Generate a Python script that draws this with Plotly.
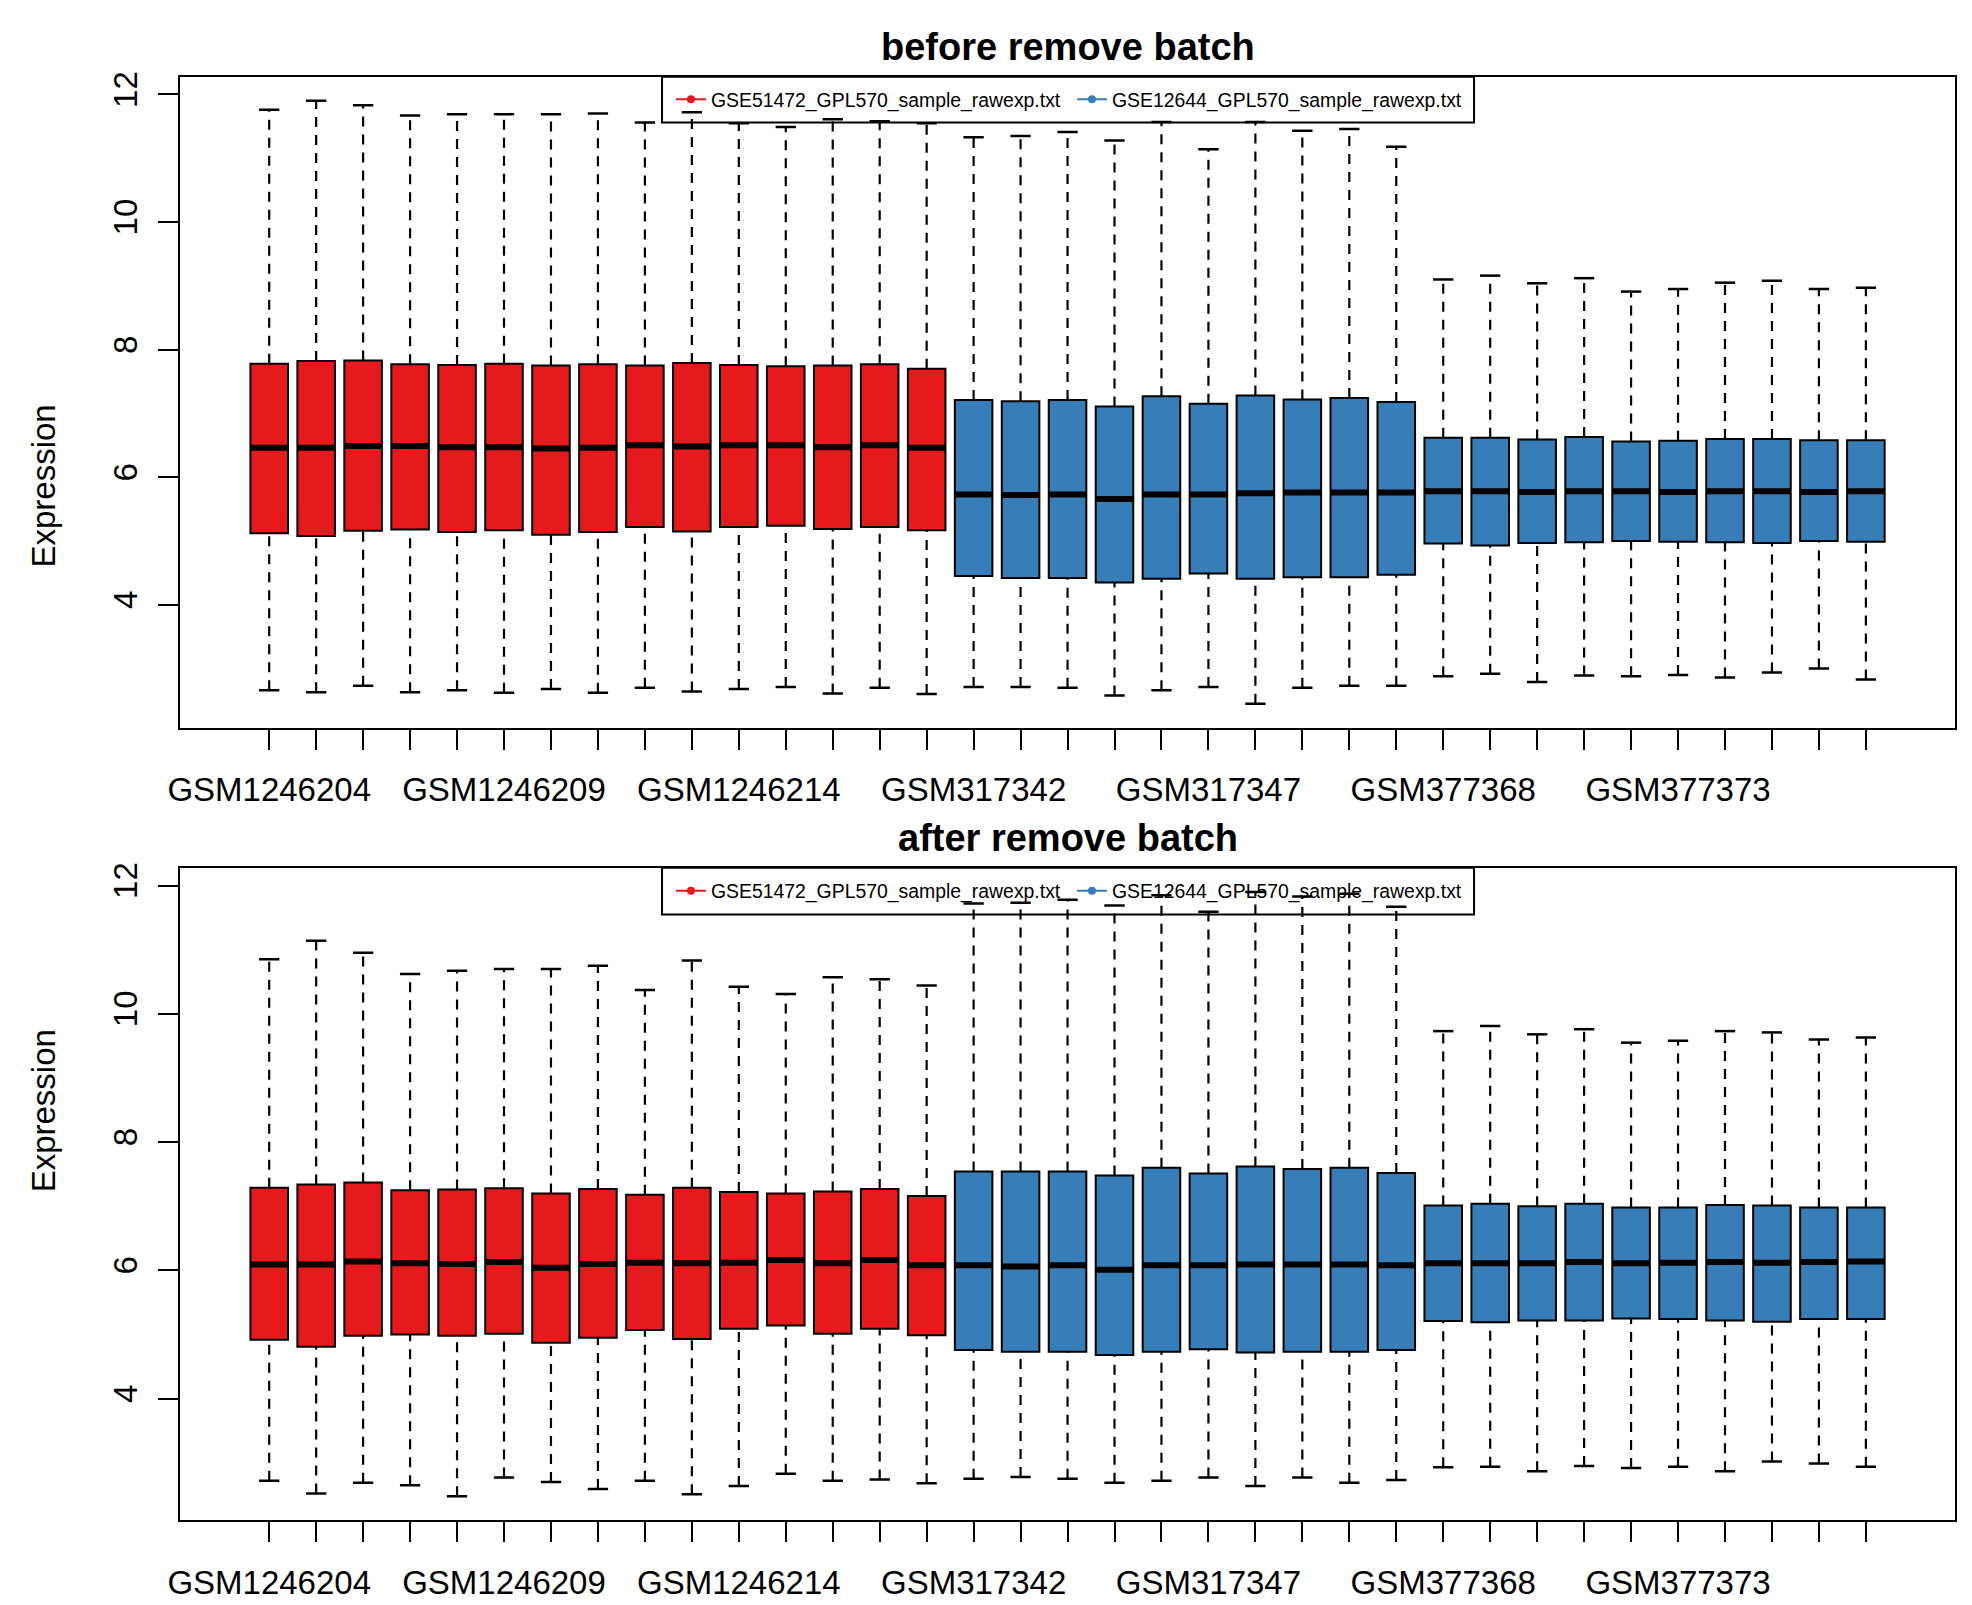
import plotly.graph_objects as go

# sample names (x axis), first 15 from GSE51472, the rest from GSE12644
samples = [
    "GSM1246204", "GSM1246205", "GSM1246206", "GSM1246207", "GSM1246208",
    "GSM1246209", "GSM1246210", "GSM1246211", "GSM1246212", "GSM1246213",
    "GSM1246214", "GSM1246215", "GSM1246216", "GSM1246217", "GSM1246218",
    "GSM317342", "GSM317343", "GSM317344", "GSM317345", "GSM317346",
    "GSM317347", "GSM317348", "GSM317349", "GSM317350", "GSM317351",
    "GSM377368", "GSM377369", "GSM377370", "GSM377371", "GSM377372",
    "GSM377373", "GSM377374", "GSM377375", "GSM377376", "GSM377377",
]
n_batch1 = 15
batch_names = ["GSE51472_GPL570_sample_rawexp.txt", "GSE12644_GPL570_sample_rawexp.txt"]
batch_colors = ["#E41A1C", "#377EB8"]

# before remove batch : whisker ends, quartiles, medians
before_upper = [11.76, 11.90, 11.83, 11.67, 11.69, 11.69, 11.69, 11.70, 11.56, 11.72,
                11.55, 11.49, 11.61, 11.58, 11.55, 11.33, 11.35, 11.41, 11.28, 11.57,
                11.14, 11.57, 11.43, 11.46, 11.18, 9.10, 9.16, 9.04, 9.12, 8.91,
                8.95, 9.05, 9.08, 8.95, 8.97]
before_q3 = [7.78, 7.82, 7.83, 7.77, 7.76, 7.78, 7.75, 7.77, 7.75, 7.79,
             7.76, 7.74, 7.75, 7.77, 7.70, 7.21, 7.19, 7.21, 7.11, 7.27,
             7.15, 7.28, 7.22, 7.24, 7.18, 6.62, 6.62, 6.59, 6.63, 6.56,
             6.57, 6.60, 6.60, 6.58, 6.58]
before_med = [6.46, 6.46, 6.49, 6.49, 6.47, 6.47, 6.45, 6.46, 6.50, 6.48,
              6.50, 6.50, 6.47, 6.50, 6.46, 5.73, 5.72, 5.73, 5.66, 5.73,
              5.73, 5.75, 5.76, 5.76, 5.76, 5.78, 5.78, 5.77, 5.78, 5.78,
              5.77, 5.78, 5.78, 5.77, 5.78]
before_q1 = [5.12, 5.08, 5.16, 5.18, 5.14, 5.17, 5.10, 5.14, 5.22, 5.15,
             5.22, 5.24, 5.19, 5.22, 5.17, 4.45, 4.42, 4.42, 4.35, 4.41,
             4.49, 4.41, 4.43, 4.43, 4.47, 4.96, 4.93, 4.97, 4.98, 5.00,
             4.99, 4.98, 4.97, 5.00, 4.99]
before_lower = [2.66, 2.63, 2.73, 2.63, 2.66, 2.62, 2.68, 2.62, 2.70, 2.64,
                2.68, 2.71, 2.61, 2.70, 2.60, 2.71, 2.71, 2.70, 2.58, 2.66,
                2.71, 2.45, 2.70, 2.73, 2.73, 2.88, 2.92, 2.79, 2.89, 2.88,
                2.90, 2.86, 2.94, 3.00, 2.83]

# after remove batch
after_upper = [10.85, 11.14, 10.95, 10.62, 10.67, 10.70, 10.70, 10.75, 10.37, 10.83,
               10.42, 10.31, 10.57, 10.54, 10.44, 11.72, 11.73, 11.78, 11.69, 11.85,
               11.59, 11.90, 11.83, 11.87, 11.67, 9.73, 9.81, 9.68, 9.76, 9.55,
               9.58, 9.73, 9.71, 9.60, 9.63]
after_q3 = [7.29, 7.34, 7.37, 7.25, 7.26, 7.28, 7.20, 7.27, 7.18, 7.29,
            7.22, 7.20, 7.23, 7.27, 7.16, 7.54, 7.54, 7.54, 7.48, 7.60,
            7.51, 7.62, 7.58, 7.60, 7.52, 7.01, 7.04, 7.00, 7.04, 6.98,
            6.98, 7.02, 7.01, 6.98, 6.98]
after_med = [6.09, 6.09, 6.14, 6.11, 6.10, 6.13, 6.04, 6.10, 6.12, 6.11,
             6.12, 6.16, 6.11, 6.16, 6.08, 6.08, 6.06, 6.08, 6.01, 6.08,
             6.08, 6.09, 6.09, 6.09, 6.08, 6.11, 6.11, 6.11, 6.13, 6.11,
             6.12, 6.13, 6.12, 6.13, 6.14]
after_q1 = [4.92, 4.81, 4.98, 5.00, 4.98, 5.01, 4.87, 4.95, 5.07, 4.93,
            5.09, 5.14, 5.01, 5.09, 4.99, 4.76, 4.73, 4.73, 4.68, 4.73,
            4.77, 4.72, 4.73, 4.73, 4.76, 5.21, 5.19, 5.22, 5.22, 5.25,
            5.24, 5.22, 5.20, 5.24, 5.24]
after_lower = [2.72, 2.52, 2.69, 2.65, 2.48, 2.77, 2.70, 2.59, 2.72, 2.51,
               2.64, 2.83, 2.72, 2.74, 2.68, 2.75, 2.78, 2.75, 2.69, 2.72,
               2.77, 2.64, 2.77, 2.69, 2.73, 2.93, 2.94, 2.87, 2.95, 2.92,
               2.94, 2.87, 3.02, 2.99, 2.94]

FONT = "Liberation Sans, Arial, Helvetica, sans-serif"
pos = list(range(1, len(samples) + 1))
ticktext = [s if i % 5 == 0 else "" for i, s in enumerate(samples)]

fig = go.Figure()


def add_panel(fig, xa, ya, legend, lower, q1, med, q3, upper):
    # dashed whiskers (like R boxplot)
    wx, wy = [], []
    for i, p in enumerate(pos):
        wx += [p, p, None, p, p, None]
        wy += [q3[i], upper[i], None, lower[i], q1[i], None]
    fig.add_trace(go.Scatter(x=wx, y=wy, mode="lines", xaxis=xa, yaxis=ya,
                             line=dict(color="black", width=2.2, dash="10px,8px"),
                             showlegend=False, hoverinfo="skip"))
    # boxes, per batch
    groups = [range(0, n_batch1), range(n_batch1, len(samples))]
    for g, idx in enumerate(groups):
        fig.add_trace(go.Box(
            x=[pos[i] for i in idx], q1=[q1[i] for i in idx],
            median=[med[i] for i in idx], q3=[q3[i] for i in idx],
            lowerfence=[q1[i] for i in idx], upperfence=[q3[i] for i in idx],
            width=0.8, whiskerwidth=0, fillcolor=batch_colors[g],
            line=dict(color="black", width=2), xaxis=xa, yaxis=ya,
            showlegend=False, hoverinfo="skip"))
    # thick medians (line-ew length = 1.4 * size)
    fig.add_trace(go.Scatter(x=pos, y=med, mode="markers", xaxis=xa, yaxis=ya,
                             marker=dict(symbol="line-ew", size=26.5,
                                         line=dict(color="black", width=6)),
                             showlegend=False, hoverinfo="skip"))
    # whisker staples
    fig.add_trace(go.Scatter(x=pos + pos, y=upper + lower, mode="markers",
                             xaxis=xa, yaxis=ya,
                             marker=dict(symbol="line-ew", size=14.5,
                                         line=dict(color="black", width=2.5)),
                             showlegend=False, hoverinfo="skip"))
    # legend entries
    for g in range(2):
        fig.add_trace(go.Scatter(x=[None], y=[None], mode="lines+markers",
                                 name=batch_names[g], legend=legend,
                                 xaxis=xa, yaxis=ya,
                                 line=dict(color=batch_colors[g], width=2),
                                 marker=dict(color=batch_colors[g], size=8)))


add_panel(fig, "x", "y", "legend", before_lower, before_q1, before_med, before_q3, before_upper)
add_panel(fig, "x2", "y2", "legend2", after_lower, after_q1, after_med, after_q3, after_upper)


def yrange(lower, upper):
    lo, hi = min(lower), max(upper)
    ext = 0.04 * (hi - lo)
    return [lo - ext, hi + ext]


xr = [0.5 - 0.04 * len(samples), len(samples) + 0.5 + 0.04 * len(samples)]
W, H = 1972, 1605
xdom = [169 / W, 1955 / W]
top_dom = [1 - 724.5 / H, 1 - 71 / H]
bot_dom = [1 - 1520 / H, 1 - 865 / H]
xmid = (xdom[0] + xdom[1]) / 2

xcommon = dict(range=xr, domain=xdom, tickvals=pos, ticktext=ticktext, tickangle=0,
               ticks="outside", ticklen=20, tickwidth=2, tickcolor="black",
               showline=True, mirror=True, linecolor="black", linewidth=2,
               showgrid=False, zeroline=False, ticklabelstandoff=12,
               tickfont=dict(family=FONT, size=33, color="black"))
ycommon = dict(tickvals=[4, 6, 8, 10, 12], tickangle=-90,
               ticks="outside", ticklen=20, tickwidth=2, tickcolor="black",
               showline=True, mirror=True, linecolor="black", linewidth=2,
               showgrid=False, zeroline=False, ticklabelstandoff=8,
               tickfont=dict(family=FONT, size=33, color="black"))

legend_common = dict(orientation="h", xanchor="left", yanchor="middle",
                     x=663 / W, bgcolor="rgba(0,0,0,0)", borderwidth=0,
                     entrywidth=356, entrywidthmode="pixels",
                     font=dict(family=FONT, size=19.4, color="black"))

# legend frames (R draws the legend box flush with the top of the plot)
top_leg = [1 - 117 / H, 1 - 71 / H]
bot_leg = [1 - 912 / H, 1 - 865 / H]
leg_x = [654 / W, 1471 / W]

fig.update_layout(
    width=W, height=H,
    margin=dict(l=0, r=0, t=0, b=0),
    paper_bgcolor="white", plot_bgcolor="white",
    xaxis=dict(xcommon, anchor="y"),
    yaxis=dict(ycommon, range=yrange(before_lower, before_upper), domain=top_dom, anchor="x"),
    xaxis2=dict(xcommon, anchor="y2"),
    yaxis2=dict(ycommon, range=yrange(after_lower, after_upper), domain=bot_dom, anchor="x2"),
    legend=dict(legend_common, y=sum(top_leg) / 2),
    legend2=dict(legend_common, y=sum(bot_leg) / 2),
    shapes=[
        dict(type="rect", xref="paper", yref="paper", x0=leg_x[0], x1=leg_x[1],
             y0=top_leg[0], y1=top_leg[1], line=dict(color="black", width=2)),
        dict(type="rect", xref="paper", yref="paper", x0=leg_x[0], x1=leg_x[1],
             y0=bot_leg[0], y1=bot_leg[1], line=dict(color="black", width=2)),
    ],
    annotations=[
        dict(text="<b>before remove batch</b>", x=xmid, y=1 - 41 / H,
             xref="paper", yref="paper", showarrow=False, yanchor="middle",
             font=dict(family=FONT, size=38, color="black")),
        dict(text="<b>after remove batch</b>", x=xmid, y=1 - 835 / H,
             xref="paper", yref="paper", showarrow=False, yanchor="middle",
             font=dict(family=FONT, size=38, color="black")),
        dict(text="Expression", x=32 / W, y=sum(top_dom) / 2, xanchor="center",
             xref="paper", yref="paper", showarrow=False, textangle=-90,
             font=dict(family=FONT, size=33, color="black")),
        dict(text="Expression", x=32 / W, y=sum(bot_dom) / 2, xanchor="center",
             xref="paper", yref="paper", showarrow=False, textangle=-90,
             font=dict(family=FONT, size=33, color="black")),
    ],
)

fig.write_html("out.html", config={"displayModeBar": False},
               post_script="document.body.style.margin='0px';")
